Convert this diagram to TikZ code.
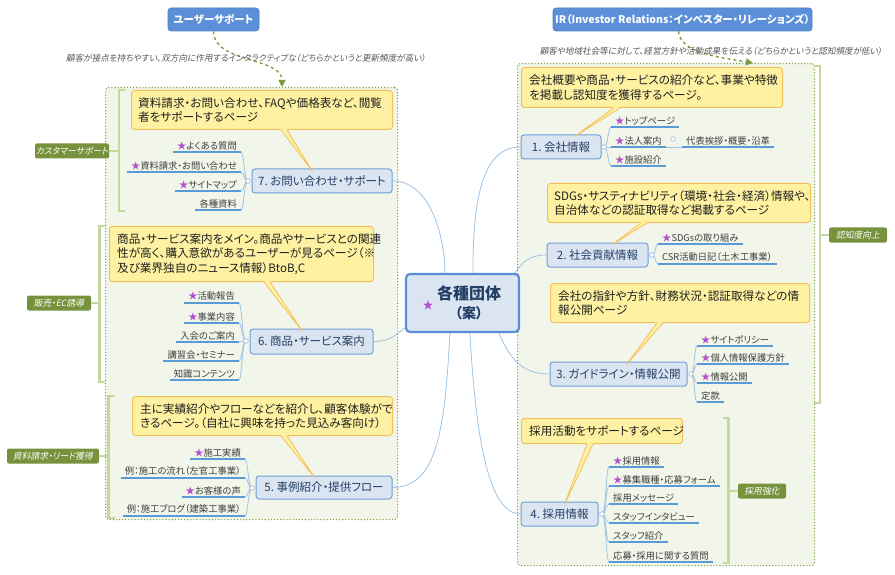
\documentclass[tikz,border=0pt]{standalone}
\usepackage{fontspec}
\setmainfont{Noto Sans CJK JP}[RawFeature=+palt]
\newfontfamily\jpit{Noto Sans CJK JP}[RawFeature=+palt, FakeSlant=0.18]
\usetikzlibrary{calc,arrows.meta}
\definecolor{topicfill}{HTML}{DBE5F1}
\definecolor{topicdraw}{HTML}{6F9FD8}
\definecolor{ctrdraw}{HTML}{5B8ED6}
\definecolor{connc}{HTML}{9DC3E6}
\definecolor{ulinec}{HTML}{5B9BD5}
\definecolor{leaftext}{HTML}{3F3F3F}
\definecolor{topictext}{HTML}{243F66}
\definecolor{callfill}{HTML}{FEF2A2}
\definecolor{calldraw}{HTML}{F4C05A}
\definecolor{grpfill}{HTML}{F2F5EA}
\definecolor{grpdraw}{HTML}{7F9F3F}
\definecolor{brkc}{HTML}{C5D89B}
\definecolor{tagfill}{HTML}{76923C}
\definecolor{topbox}{HTML}{5B8FD7}
\definecolor{arrc}{HTML}{7C9A3C}
\definecolor{starc}{HTML}{B44FCE}
\definecolor{commentc}{HTML}{595959}
\definecolor{jcircc}{HTML}{9DB6D8}
\newcommand\mystar{{\color{starc}★}}
\begin{document}
\begin{tikzpicture}[x=1pt,y=-1pt,
  grp/.style={draw=grpdraw, line width=1.1pt, dotted, fill=grpfill, rounded corners=3pt, inner sep=0pt, anchor=north west},
  brk/.style={draw=brkc, line width=2.6pt},
  tag/.style={fill=tagfill, rounded corners=2pt, text=white, font=\jpit\fontsize{8.8}{10}\selectfont, inner sep=0pt, minimum height=15pt},
  topbx/.style={fill=topbox, draw=topbox!90!black, line width=0.6pt, rounded corners=3pt, text=white, font=\bfseries\fontsize{10.5}{12}\selectfont, inner sep=0pt, minimum height=23pt},
  arr/.style={draw=arrc, line width=1.3pt, dashed, -{Triangle[length=7pt,width=7pt]}},
  cmt/.style={text=commentc, font=\jpit\fontsize{8.6}{10}\selectfont, inner sep=0pt},
  conn/.style={draw=connc, line width=0.8pt},
  jc/.style={draw=connc, line width=0.8pt},
  ctrbox/.style={fill=topicfill, draw=ctrdraw, line width=2.2pt, rounded corners=4pt, inner sep=0pt},
  topic/.style={fill=topicfill, draw=topicdraw, line width=1pt, rounded corners=3pt, inner sep=0pt, text=topictext, font=\fontsize{11.5}{13}\selectfont},
  callbox/.style={fill=callfill, draw=calldraw, line width=1pt, rounded corners=3pt, inner sep=0pt, anchor=north west},
  calltext/.style={anchor=west, align=left, inner sep=0pt, text=black!88, font=\fontsize{11.6}{14.5}\selectfont},
  leafL/.style={anchor=south east, inner xsep=4pt, inner ysep=2pt, text=leaftext, font=\fontsize{9.3}{10}\selectfont},
  leafR/.style={anchor=south west, inner xsep=4pt, inner ysep=2pt, text=leaftext, font=\fontsize{9.3}{10}\selectfont},
  uline/.style={draw=ulinec, line width=1.1pt},
  jcirc/.style={circle, draw=jcircc, fill=white, line width=0.6pt, minimum size=4.6pt, inner sep=0pt}
]
\useasboundingbox (0,0) rectangle (895,575);
\fill[white] (0,0) rectangle (895,575);

% group boxes
\node[grp, minimum width=292pt, minimum height=432pt] (gL) at (105,87) {};
\node[grp, minimum width=297pt, minimum height=502pt] (gR) at (517,63) {};

% tags
\node[tag, minimum width=74pt] (tCS) at (72,151) {カスタマーサポート};
\node[tag, minimum width=64pt] (tEC) at (59,303) {販売・EC誘導};
\node[tag, minimum width=92pt] (tLD) at (53,456) {資料請求・リード獲得};
\node[tag, minimum width=58pt] (tNC) at (858,235) {認知度向上};
\node[tag, minimum width=48pt] (tSY) at (762,491) {採用強化};

% brackets
\draw[brk] (125,90) -- (119,90) -- (119,211) -- (125,211);
\draw[brk] (119,151) -- (tCS.east);
\draw[brk] (105,226) -- (99.5,226) -- (99.5,382) -- (105,382);
\draw[brk] (99.5,303) -- (tEC.east);
\draw[brk] (115,396) -- (108.5,396) -- (108.5,518) -- (115,518);
\draw[brk] (108.5,456) -- (tLD.east);
\draw[brk] (814,66) -- (820,66) -- (820,403) -- (814,403);
\draw[brk] (820,235) -- (tNC.west);
\draw[brk] (723,418) -- (728.5,418) -- (728.5,563) -- (723,563);
\draw[brk] (728.5,491) -- (tSY.west);

% top boxes and arrows
\node[topbx, minimum width=91pt] (uS) at (213.5,19.5) {ユーザーサポート};
\node[topbx, minimum width=259pt] (ir) at (682.5,19.5) {IR（Investor Relations：インベスター・リレーションズ）};
\draw[arr] (uS.south) .. controls +(0,32) and +(0,-30) .. ($(gL.north west)+(177,0)$);
\draw[arr] ($(ir.south)+(-4,0)$) .. controls +(2,22) and +(-35,-6) .. ($(gR.north west)+(236,0)$);
\node[cmt] (cmL) at (246,58) {顧客が接点を持ちやすい、双方向に作用するインタラクティブな（どちらかというと更新頻度が高い）};
\node[cmt] (cmR) at (711,51) {顧客や地域社会等に対して、経営方針や活動成果を伝える（どちらかというと認知頻度が低い）};

% center and topics
\node[ctrbox, minimum width=113pt, minimum height=58pt] (ctr) at (462.5,303) {};
\node[topic, minimum width=140pt, minimum height=24pt] (t7) at (322,181) {7.\ お問い合わせ・サポート};
\node[topic, minimum width=123pt, minimum height=25pt] (t6) at (311.5,341.5) {6.\ 商品・サービス案内};
\node[topic, minimum width=136pt, minimum height=23pt] (t5) at (324,487.5) {5.\ 事例紹介・提供フロー};
\node[topic, minimum width=80pt, minimum height=24pt] (t1) at (561,147) {1.\ 会社情報};
\node[topic, minimum width=101pt, minimum height=24pt] (t2) at (597.5,255) {2.\ 社会貢献情報};
\node[topic, minimum width=137pt, minimum height=24pt] (t3) at (618.5,374) {3.\ ガイドライン・情報公開};
\node[topic, minimum width=77pt, minimum height=24pt] (t4) at (559.5,514) {4.\ 採用情報};

% main connectors
\draw[conn] (t7.east) .. controls +(38,0) and +(0,-36) .. ($(ctr.north west)+(40,0)$);
\draw[conn] ($(ctr.north west)+(68,0)$) .. controls +(0,-75) and +(-38,0) .. (t1.west);
\draw[conn] ($(ctr.north west)+(110,0)$) .. controls +(8,-12) and +(-16,0) .. (t2.west);
\draw[conn] ($(ctr.south west)+(94,0)$) .. controls +(12,28) and +(-26,0) .. (t3.west);
\draw[conn] ($(ctr.south west)+(45,0)$) .. controls +(-5,95) and +(45,0) .. (t5.east);
\draw[conn] ($(ctr.south west)+(65,0)$) .. controls +(6,105) and +(-32,0) .. (t4.west);
\draw[conn] (t6.east) .. controls +(18,0) and +(-9,6) .. ($(ctr.west)+(0,25)$);

\node[inner sep=0pt, text=topictext, font=\bfseries\fontsize{16}{18}\selectfont] (ctrA) at (469,293) {各種団体};
\node[inner sep=0pt, text=topictext, font=\bfseries\fontsize{14}{16}\selectfont] (ctrB) at (469,313) {（案）};
\node[inner sep=0pt, text=starc, font=\fontsize{11}{12}\selectfont] (ctrS) at (428,305) {★};

% callouts
\node[callbox, minimum width=261pt, minimum height=39pt] (c7) at (131,90) {};
\node[calltext] (c7t) at ($(c7.west)+(7,0)$) {資料請求・お問い合わせ、FAQや価格表など、閲覧\\者をサポートするページ};
\node[callbox, minimum width=264pt, minimum height=55pt] (c6) at (109,226) {};
\node[calltext] (c6t) at ($(c6.west)+(8,0)$) {商品・サービス案内をメイン。商品やサービスとの関連\\性が高く、購入意欲があるユーザーが見るページ（※\\及び業界独自のニュース情報）BtoB,C};
\node[callbox, minimum width=260pt, minimum height=39pt] (c5) at (132,396) {};
\node[calltext] (c5t) at ($(c5.west)+(8,0)$) {主に実績紹介やフローなどを紹介し、顧客体験がで\\きるページ。（自社に興味を持った見込み客向け）};
\node[callbox, minimum width=261pt, minimum height=40pt] (c1) at (521,67) {};
\node[calltext] (c1t) at ($(c1.west)+(8,0)$) {会社概要や商品・サービスの紹介など、事業や特徴\\を掲載し認知度を獲得するページ。};
\node[callbox, minimum width=263pt, minimum height=39pt] (c2) at (547,183) {};
\node[calltext] (c2t) at ($(c2.west)+(7,0)$) {SDGs・サスティナビリティ（環境・社会・経済）情報や、\\自治体などの認証取得など掲載するページ};
\node[callbox, minimum width=259pt, minimum height=39pt] (c3) at (550,283) {};
\node[calltext] (c3t) at ($(c3.west)+(8,0)$) {会社の指針や方針、財務状況・認証取得などの情\\報公開ページ};
\node[callbox, minimum width=161pt, minimum height=25pt] (c4) at (521,418) {};
\node[calltext] (c4t) at ($(c4.west)+(8,0)$) {採用活動をサポートするページ};

% callout pointers
\foreach \c/\t/\a/\b/\tx/\ty in {c7/t7/150/156/61/3, c6/t6/155/161/53/3, c5/t5/149/155/59/2, c1/t1/93/99/54/2, c2/t2/94/100/66/2, c3/t3/107/113/77/3, c4/t4/66/72/44/3}{
  \fill[callfill] ($(\c.south west)+(\a,-1.2)$) -- ($(\t.north west)+(\tx,\ty)$) -- ($(\c.south west)+(\b,-1.2)$) -- cycle;
  \draw[calldraw, line width=0.8pt] ($(\c.south west)+(\a,0)$) -- ($(\t.north west)+(\tx,\ty)$) -- ($(\c.south west)+(\b,0)$);
}

% leaves
\node[leafL] (l71) at (241,152) {\mystar よくある質問};
\node[leafL] (l72) at (241,172) {\mystar 資料請求・お問い合わせ};
\node[leafL] (l73) at (241,191) {\mystar サイトマップ};
\node[leafL] (l74) at (241,210) {各種資料};
\node[leafL] (l61) at (239,303) {\mystar 活動報告};
\node[leafL] (l62) at (239,323) {\mystar 事業内容};
\node[leafL] (l63) at (239,342) {入会のご案内};
\node[leafL] (l64) at (239,361) {講習会・セミナー};
\node[leafL] (l65) at (239,380) {知識コンテンツ};
\node[leafL] (l51) at (245,459) {\mystar 施工実績};
\node[leafL] (l52) at (245,478) {例：施工の流れ（左官工事業）};
\node[leafL] (l53) at (245,497) {\mystar お客様の声};
\node[leafL] (l54) at (245,516) {例：施工ブログ（建築工事業）};
\node[leafR] (r11) at (611,127) {\mystar トップページ};
\node[leafR] (r12) at (611,147) {\mystar 法人案内};
\node[leafR] (r13) at (611,166) {\mystar 施設紹介};
\node[leafR] (r14) at (682,147) {代表挨拶・概要・沿革};
\node[leafR] (r21) at (658,244) {\mystar SDGsの取り組み};
\node[leafR] (r22) at (658,264) {CSR活動日記（土木工事業）};
\node[leafR] (r31) at (697,346) {\mystar サイトポリシー};
\node[leafR] (r32) at (697,364) {\mystar 個人情報保護方針};
\node[leafR] (r33) at (697,383) {\mystar 情報公開};
\node[leafR] (r34) at (697,402) {定款};
\node[leafR] (r41) at (609,467) {\mystar 採用情報};
\node[leafR] (r42) at (609,486) {\mystar 募集職種・応募フォーム};
\node[leafR] (r43) at (609,504) {採用メッセージ};
\node[leafR] (r44) at (609,523) {スタッフインタビュー};
\node[leafR] (r45) at (609,542) {スタッフ紹介};
\node[leafR] (r46) at (609,562) {応募・採用に関する質問};

% junction coordinates
\coordinate (j7) at (248,181);
\coordinate (j6) at (246,341);
\coordinate (j5) at (252,488);
\coordinate (j1) at (604,147);
\coordinate (j2) at (652,255);
\coordinate (j3) at (691,374);
\coordinate (j4) at (602,514);
\coordinate (j12) at (673,139);

\foreach \j/\n in {j7/l71,j7/l72,j7/l73,j7/l74,j6/l61,j6/l62,j6/l63,j6/l64,j6/l65,j5/l51,j5/l52,j5/l53,j5/l54}
  \draw[jc] (\j) .. controls +(-4,0) and +(3,0) .. (\n.south east);
\foreach \j/\n in {j1/r11,j1/r12,j1/r13,j2/r21,j2/r22,j3/r31,j3/r32,j3/r33,j3/r34,j4/r41,j4/r42,j4/r43,j4/r44,j4/r45,j4/r46}
  \draw[jc] (\j) .. controls +(4,0) and +(-3,0) .. (\n.south west);
\draw[jc] (r12.south east) -- (r14.south west);

\foreach \n in {l71,l72,l73,l74,l61,l62,l63,l64,l65,l51,l52,l53,l54,r11,r12,r13,r14,r21,r22,r31,r32,r33,r34,r41,r42,r43,r44,r45,r46}
  \draw[uline] (\n.south west) -- (\n.south east);

\foreach \j in {j7,j6,j5,j1,j2,j3,j4,j12}
  \node[jcirc] (\j c) at (\j) {};
\end{tikzpicture}
\end{document}
